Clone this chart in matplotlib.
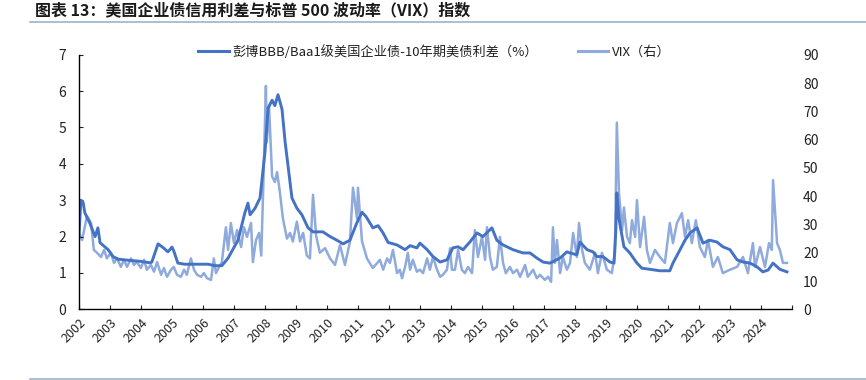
import numpy as np
import matplotlib
matplotlib.use('Agg')
import matplotlib.pyplot as plt
from matplotlib.lines import Line2D

plt.rcParams['font.family'] = ['Noto Sans CJK SC', 'DejaVu Sans']

# BBB/Baa1 spread over 10y treasury (%)
spread_t = [2002.00, 2002.06, 2002.13, 2002.19, 2002.35, 2002.52, 2002.61, 2002.68, 2002.94,
            2003.10, 2003.26, 2003.58, 2003.97, 2004.29, 2004.35, 2004.45, 2004.55, 2004.71,
            2004.87, 2005.00, 2005.06, 2005.19, 2005.42, 2006.16, 2006.39, 2006.61, 2006.81,
            2007.13, 2007.35, 2007.45, 2007.52, 2007.68, 2007.84, 2008.00, 2008.10, 2008.23,
            2008.32, 2008.42, 2008.55, 2008.65, 2008.74, 2008.87, 2009.03, 2009.19, 2009.39,
            2009.55, 2009.87, 2010.10, 2010.32, 2010.52, 2010.74, 2010.97, 2011.13, 2011.26,
            2011.48, 2011.65, 2011.81, 2011.97, 2012.26, 2012.52, 2012.68, 2012.90, 2013.00,
            2013.23, 2013.42, 2013.65, 2013.87, 2014.06, 2014.23, 2014.39, 2014.61, 2014.84,
            2015.03, 2015.32, 2015.48, 2015.68, 2016.00, 2016.32, 2016.55, 2016.77, 2016.97,
            2017.19, 2017.52, 2017.74, 2017.84, 2018.06, 2018.16, 2018.39, 2018.58, 2018.71,
            2018.90, 2019.13, 2019.26, 2019.32, 2019.35, 2019.42, 2019.48, 2019.58, 2019.77,
            2020.00, 2020.16, 2020.42, 2020.74, 2021.06, 2021.16, 2021.39, 2021.55, 2021.71,
            2021.94, 2022.13, 2022.35, 2022.58, 2022.77, 2023.00, 2023.23, 2023.42, 2023.65,
            2023.87, 2024.06, 2024.23, 2024.39, 2024.61, 2024.84]
spread = [2.0, 3.0, 2.95, 2.65, 2.37, 2.0, 2.24, 1.83, 1.64,
          1.45, 1.38, 1.35, 1.32, 1.28, 1.3, 1.55, 1.8, 1.7,
          1.58, 1.71, 1.6, 1.27, 1.24, 1.24, 1.2, 1.2, 1.41,
          1.9, 2.65, 2.92, 2.6, 2.78, 3.06, 4.32, 5.53, 5.75,
          5.6, 5.9, 5.5, 4.6, 3.97, 3.06, 2.78, 2.6, 2.24,
          2.13, 2.13, 2.0, 1.9, 1.8, 1.9, 2.39, 2.67, 2.55,
          2.24, 2.3, 2.1, 1.84, 1.77, 1.64, 1.75, 1.69, 1.82,
          1.64, 1.45, 1.3, 1.36, 1.69, 1.72, 1.64, 1.85, 2.1,
          2.0, 2.24, 1.9, 1.77, 1.64, 1.55, 1.55, 1.41, 1.3,
          1.27, 1.41, 1.58, 1.55, 1.5, 1.85, 1.64, 1.58, 1.45,
          1.45, 1.3, 1.27, 2.2, 3.2, 2.5, 2.2, 1.72, 1.55,
          1.27, 1.13, 1.1, 1.06, 1.06, 1.27, 1.64, 1.9, 2.1,
          2.24, 1.82, 1.9, 1.85, 1.72, 1.64, 1.36, 1.3, 1.27,
          1.17, 1.03, 1.08, 1.27, 1.1, 1.03]

# VIX (right axis)
vix_t = [2002.00, 2002.10, 2002.26, 2002.39, 2002.48, 2002.58, 2002.71, 2002.81, 2002.90,
         2003.03, 2003.13, 2003.23, 2003.35, 2003.45, 2003.55, 2003.68, 2003.77, 2003.87,
         2004.00, 2004.10, 2004.19, 2004.32, 2004.42, 2004.52, 2004.65, 2004.74, 2004.84, 2004.97,
         2005.06, 2005.16, 2005.29, 2005.39, 2005.48, 2005.61, 2005.71, 2005.81, 2005.94,
         2006.03, 2006.13, 2006.26, 2006.35, 2006.42, 2006.52, 2006.61, 2006.74, 2006.81, 2006.90,
         2007.00, 2007.10, 2007.23, 2007.32, 2007.42, 2007.55, 2007.61, 2007.71, 2007.81,
         2007.88, 2007.94, 2008.03, 2008.06, 2008.13, 2008.23, 2008.32, 2008.39, 2008.48,
         2008.58, 2008.71, 2008.81, 2008.90, 2009.03, 2009.13, 2009.23, 2009.35, 2009.45,
         2009.55, 2009.65, 2009.77, 2009.94, 2010.10, 2010.26, 2010.42, 2010.58, 2010.74,
         2010.84, 2010.97, 2011.00, 2011.13, 2011.29, 2011.48,
         2011.71, 2011.81, 2011.94,
         2012.03, 2012.13, 2012.26, 2012.35, 2012.42, 2012.52, 2012.61, 2012.68, 2012.77, 2012.90,
         2013.00, 2013.10, 2013.23, 2013.32, 2013.42, 2013.55, 2013.65, 2013.74, 2013.87, 2013.97,
         2014.03, 2014.13, 2014.23, 2014.35, 2014.45, 2014.55, 2014.68, 2014.77, 2014.87,
         2015.00, 2015.10, 2015.16, 2015.26, 2015.35, 2015.48, 2015.58, 2015.68, 2015.77, 2015.90,
         2016.00, 2016.13, 2016.23, 2016.39, 2016.48, 2016.65, 2016.77, 2016.87,
         2017.03, 2017.13, 2017.23, 2017.29, 2017.35, 2017.42, 2017.52, 2017.61, 2017.74,
         2017.84, 2017.94, 2018.06, 2018.13,
         2018.23, 2018.32, 2018.48, 2018.65, 2018.74, 2018.87,
         2019.03, 2019.19, 2019.29, 2019.35, 2019.42, 2019.52, 2019.58, 2019.68, 2019.77,
         2019.84, 2019.94,
         2020.00, 2020.10, 2020.23, 2020.32, 2020.42, 2020.58, 2020.74, 2020.90,
         2021.06, 2021.16, 2021.29, 2021.45, 2021.55, 2021.65, 2021.77, 2021.90,
         2022.03, 2022.19, 2022.29, 2022.45, 2022.61, 2022.77,
         2023.00, 2023.23, 2023.42, 2023.58, 2023.74, 2023.81, 2023.97,
         2024.13, 2024.26, 2024.35, 2024.39, 2024.52, 2024.61, 2024.71, 2024.84]
vix = [27, 24.5, 33, 30.5, 21, 20, 18.5, 21, 18,
       20, 16.4, 18, 15, 17.5, 15, 18, 15.7, 16.7,
       14.6, 17.5, 14, 15.7, 13.3, 16.7, 12.2, 14.6, 11.5, 14,
       15, 12.2, 11.5, 14, 12.2, 18, 14, 12.2, 11.5,
       12.8, 11, 10.4, 18, 12.8, 15, 16.7, 29, 21, 30.5,
       23.4, 28, 22, 29, 25.6, 30.5, 16.7, 24.5, 27,
       19, 41.5, 79, 59, 72, 47, 45, 48.5, 41.5,
       32, 25, 27, 24, 31, 24, 27, 19, 18,
       40.5, 26, 20, 21.6, 18, 15.7, 22.7, 15.7, 23.8,
       43, 32, 43, 24, 18, 14.6,
       17.5, 14, 18,
       16.4, 21, 12.8, 14, 11, 15, 20, 14, 17.5, 13.3,
       14, 12.8, 18, 14, 18.5, 14, 11.5, 12.2, 14, 21.6,
       14, 14, 21, 14, 12.8, 15, 12.8, 28, 18.5,
       25.6, 17.5, 29, 18.5, 14, 15, 25.6, 16.4, 12.8, 15,
       12.8, 14, 11.5, 15.7, 11.5, 14, 11, 12.2,
       10.4, 11.5, 9.7, 29, 16.4, 24.5, 12.8, 18.5, 14,
       16.4, 27, 18.5, 30.5,
       21, 16.4, 14, 20, 12.8, 20,
       14, 12.8, 20, 66, 41, 28, 36, 25.6, 23.4,
       31.5, 25.6,
       38.6, 22, 32.7, 21, 16.4, 21, 18.5, 16.4,
       30.5, 23.4, 30.5, 34, 25.6, 31.5, 23.4, 31.5,
       22, 18.5, 24.5, 15, 18.5, 12.8,
       14, 15, 18.5, 12.8, 23.4, 15, 22,
       15, 23.4, 21, 45.7, 23.4, 21, 16.4, 16.4]

years = list(range(2002, 2026))
year_labels = [str(y) for y in range(2002, 2025)] + ['']

dark = '#4472C4'
light = '#8FAADC'

fig = plt.figure(figsize=(8.66, 3.8), dpi=100)
ax = fig.add_axes([0.0912, 0.186, 0.8233, 0.670])
ax2 = ax.twinx()

ax2.plot(vix_t, vix, color=light, linewidth=1.8, solid_joinstyle='round')
ax.plot(spread_t, spread, color=dark, linewidth=2.1, solid_joinstyle='round')
ax.set_zorder(ax2.get_zorder() + 1)
ax.patch.set_visible(False)

ax.set_xlim(2002, 2025)
ax.set_ylim(0, 7)
ax2.set_ylim(0, 90)
ax.set_yticks(range(0, 8))
ax2.set_yticks(range(0, 100, 10))
ax.set_xticks(years)
ax.set_xticklabels(year_labels, rotation=45, ha='right', va='top', rotation_mode='anchor')

for s in ['top', 'right']:
    ax.spines[s].set_visible(False)
for s in ['top', 'right', 'left', 'bottom']:
    ax2.spines[s].set_visible(False)
ax.spines['left'].set_linewidth(1.0)
ax.spines['bottom'].set_linewidth(1.0)

ax.tick_params(axis='y', direction='in', length=3, pad=9, labelsize=10, colors='#222222')
ax.tick_params(axis='x', direction='in', length=3, pad=5, labelsize=9, colors='#222222')
ax2.tick_params(axis='y', length=0, pad=8, labelsize=10, colors='#222222')

handles = [Line2D([], [], color=dark, linewidth=2.2),
           Line2D([], [], color=light, linewidth=2.2)]
labels = ['彭博BBB/Baa1级美国企业债-10年期美债利差（%）', 'VIX（右）']
fig.legend(handles, labels, loc='center', bbox_to_anchor=(0.502, 0.863), ncol=2,
           frameon=False, fontsize=9.5, handlelength=2.3, handletextpad=0.3,
           columnspacing=3.0, labelcolor='#222222')

fig.text(0.04, 0.972, '图表 13：美国企业债信用利差与标普 500 波动率（VIX）指数',
         fontsize=11.5, fontweight='bold', style='italic', color='#1a1a1a', va='center')
fig.add_artist(Line2D([30 / 866, 1.0], [1 - 22 / 380, 1 - 22 / 380], color='#9DB3C8', linewidth=1.2))
fig.add_artist(Line2D([30 / 866, 1.0], [1 - 379 / 380, 1 - 379 / 380], color='#9DB3C8', linewidth=1.2))

fig.savefig('out.png', dpi=100)
